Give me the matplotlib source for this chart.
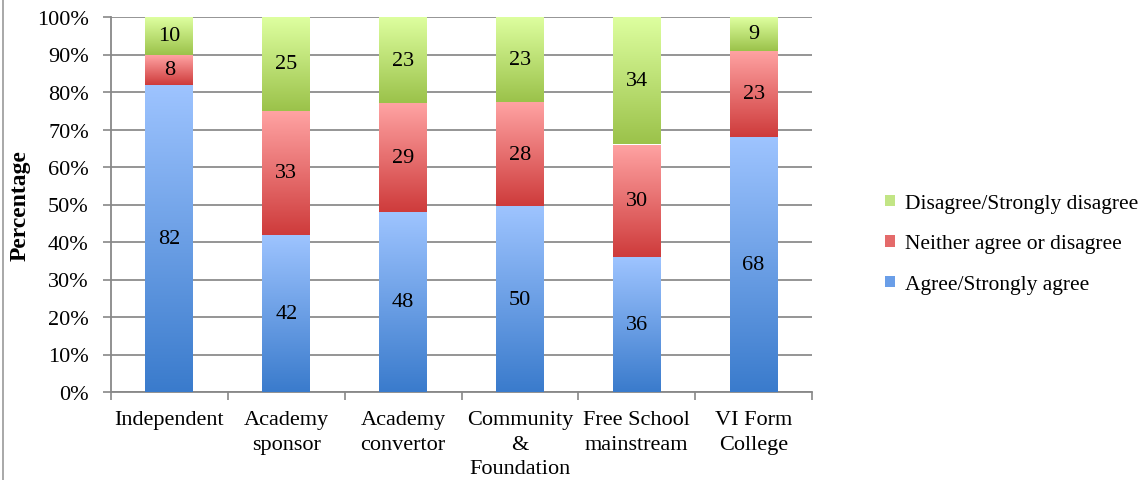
import matplotlib
matplotlib.use("Agg")
import matplotlib.pyplot as plt
import numpy as np
from matplotlib.colors import LinearSegmentedColormap
from matplotlib.patches import Rectangle
from matplotlib.lines import Line2D

categories = ["Independent", "Academy\nsponsor", "Academy\nconvertor",
              "Community\n&\nFoundation", "Free School\nmainstream", "VI Form\nCollege"]
agree = [82, 42, 48, 50, 36, 68]
neither = [8, 33, 29, 28, 30, 23]
disagree = [10, 25, 23, 23, 34, 9]
series_names = ["Agree/Strongly agree", "Neither agree or disagree", "Disagree/Strongly disagree"]
yticks = [0, 10, 20, 30, 40, 50, 60, 70, 80, 90, 100]

grads = [("#3A7BCC", "#9EC4FF"), ("#CE3B3B", "#FFA3A3"), ("#9BC24A", "#DEFFA0")]
legend_cols = ["#6A9EE8", "#E46A6A", "#C2E585"]

plt.rcParams['font.family'] = ['Liberation Serif']
FS = 15.5

fig = plt.figure(figsize=(11.44, 4.81), dpi=100)
ax = fig.add_axes([111/1144, 1-393/481, (812-111)/1144, (393-18)/481])

data = np.array([agree, neither, disagree], dtype=float)
totals = data.sum(axis=0)
pct = data / totals * 100
x = np.arange(len(categories))
width = 0.41
bottom = np.zeros(len(categories))
grad = np.linspace(0, 1, 256).reshape(-1, 1)
for i in range(3):
    cmap = LinearSegmentedColormap.from_list(f"g{i}", grads[i])
    bars = ax.bar(x, pct[i], width, bottom=bottom, color="none", edgecolor="none", zorder=3)
    for j, b in enumerate(bars):
        x0, y0, w, h = b.get_x(), b.get_y(), b.get_width(), b.get_height()
        im = ax.imshow(grad, cmap=cmap, extent=[x0, x0 + w, y0, y0 + h],
                       origin="lower", aspect="auto", zorder=3, interpolation="bilinear")
        im.set_clip_path(b)
        ax.text(x[j], y0 + h / 2, f"{int(data[i, j])}", ha="center", va="center",
                fontsize=FS + 0.5, zorder=5, color="black")
    bottom += pct[i]

ax.set_xlim(-0.5, len(categories) - 0.5)
ax.set_ylim(0, 100)
ax.set_yticks(yticks)
ax.set_yticklabels([f"{t}%" for t in yticks], fontsize=FS + 0.5)
ax.set_xticks(x)
ax.set_xticklabels(categories, fontsize=FS + 0.5, linespacing=1.4)
ax.set_xticks(np.arange(len(categories) + 1) - 0.5, minor=True)
ax.tick_params(axis="x", which="major", length=0, pad=13)
ax.tick_params(axis="x", which="minor", length=6, color="#888888", width=1.2)
ax.tick_params(axis="y", length=6, color="#888888", width=1.2, pad=10)
ax.yaxis.grid(True, color="#8c8c8c", linewidth=1.3, zorder=0)
ax.set_axisbelow(True)
for s in ["top", "right"]:
    ax.spines[s].set_visible(False)
for s in ["left", "bottom"]:
    ax.spines[s].set_color("#888888")
    ax.spines[s].set_linewidth(1.3)
ax.set_ylabel("Percentage", fontsize=17, fontweight="bold", va="center")
ax.yaxis.set_label_coords((20 - 111) / 701, 0.5)

# legend
handles = []
for i in [2, 1, 0]:
    handles.append(Rectangle((0, 0), 1, 1, facecolor=legend_cols[i], edgecolor="none"))
leg = fig.legend(handles, [series_names[i] for i in [2, 1, 0]], loc="center left",
                 bbox_to_anchor=(866/1144, 1-245/481), frameon=False, fontsize=FS,
                 handlelength=0.45, handleheight=0.45, handletextpad=0.45, labelspacing=1.0)

fig.add_artist(Line2D([3/1144, 3/1144], [0, 1], color="#999999", linewidth=1.2))

fig.savefig("out.png", dpi=100)
